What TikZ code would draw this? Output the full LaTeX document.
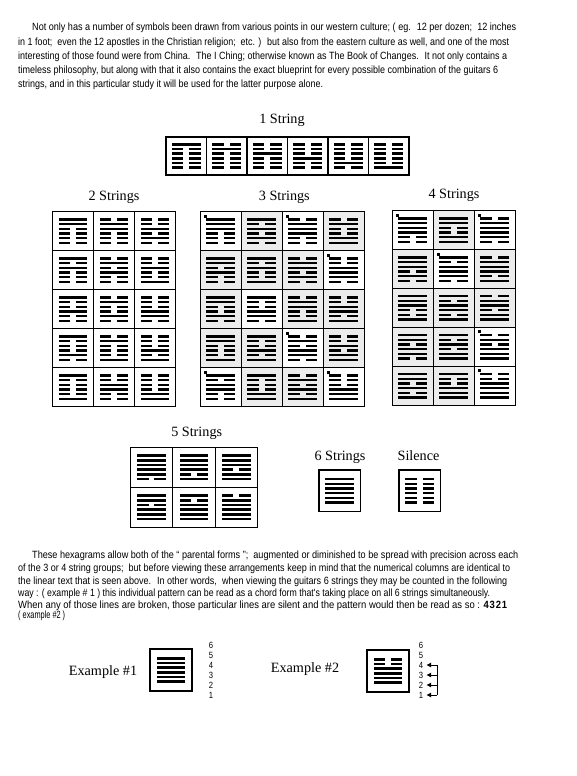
\documentclass[tikz,border=0pt]{standalone}
\usepackage{fontspec}
\usepackage{graphicx}
\setmainfont{Liberation Serif}
\newfontfamily\bodyfont[FakeStretch=0.85]{Liberation Sans}
\usetikzlibrary{arrows.meta}
\definecolor{cellgray}{RGB}{236,236,236}

\def\hxw{14.35}\def\hxg{2.9}\def\hxt{1.2}\def\hxs{4.67}
\newcommand{\hexa}[3]{%
  \pgfmathsetmacro{\hxx}{#1}%
  \foreach \v [count=\i] in {#3} {%
    \pgfmathsetmacro{\hyy}{#2+(\i-3.5)*\hxs}%
    \ifnum\v=1\relax
      \fill ({\hxx-\hxw},{\hyy-\hxt}) rectangle ({\hxx+\hxw},{\hyy+\hxt});%
    \else
      \fill ({\hxx-\hxw},{\hyy-\hxt}) rectangle ({\hxx-\hxg},{\hyy+\hxt});%
      \fill ({\hxx+\hxg},{\hyy-\hxt}) rectangle ({\hxx+\hxw},{\hyy+\hxt});%
    \fi
  }%
}
\newcommand{\hexcell}[3]{\hexa{\GX+(#1-0.5)*\GW}{\GY+(#2-0.5)*\GH}{#3}}
\newcommand{\graycell}[2]{\fill[cellgray] ({\GX+(#1-1)*\GW},{\GY+(#2-1)*\GH}) rectangle ({\GX+#1*\GW},{\GY+#2*\GH});}
\newcommand{\markcell}[2]{\fill ({\GX+(#1-1)*\GW+3.5},{\GY+(#2-1)*\GH+3}) rectangle ++(3,3);}
\newcommand{\gridlines}[2]{%
  \draw[gridline] (\GX,\GY) rectangle ({\GX+#1*\GW},{\GY+#2*\GH});%
  \foreach \c in {1,...,#1} {\ifnum\c<#1\relax \draw[gridline] ({\GX+\c*\GW},\GY) -- ({\GX+\c*\GW},{\GY+#2*\GH});\fi}%
  \foreach \r in {1,...,#2} {\ifnum\r<#2\relax \draw[gridline] (\GX,{\GY+\r*\GH}) -- ({\GX+#1*\GW},{\GY+\r*\GH});\fi}%
}

\begin{document}
\begin{tikzpicture}[x=1pt,y=-1pt,
  gridline/.style={line width=1.1pt,black},
  title/.style={anchor=base,inner sep=0pt,font=\fontsize{14.2}{17}\selectfont},
  body/.style={anchor=base west,inner sep=0pt,font=\bodyfont\fontsize{10.5}{12}\selectfont},
  num/.style={font=\bodyfont\fontsize{9}{10}\selectfont},
  arr/.style={-{Triangle[length=4.5pt,width=4.5pt]},line width=0.8pt}]
\fill[white] (0,0) rectangle (576,776);
\useasboundingbox (0,0) rectangle (576,776);

% ---- paragraph 1
\node[body] (pa1) at (32,31) {\resizebox{484pt}{\height}{Not only has a number of symbols been drawn from various points in our western culture; ( eg.~ 12 per dozen;~ 12 inches}};
\node[body] (pa2) at (18,45.2) {\resizebox{491pt}{\height}{in 1 foot;~ even the 12 apostles in the Christian religion;~ etc. )~ but also from the eastern culture as well, and one of the most}};
\node[body] (pa3) at (18,59.4) {\resizebox{489pt}{\height}{interesting of those found were from China.~ The I Ching; otherwise known as The Book of Changes.~ It not only contains a}};
\node[body] (pa4) at (18,73.6) {\resizebox{480pt}{\height}{timeless philosophy, but along with that it also contains the exact blueprint for every possible combination of the guitars 6}};
\node[body] (pa5) at (18,87.8) {\resizebox{305pt}{\height}{strings, and in this particular study it will be used for the latter purpose alone.}};

% ---- titles
\node[title] (t1) at (282,123.3) {1 String};
\node[title] (t2) at (114,200.5) {2 Strings};
\node[title] (t3) at (284.3,200.5) {3 Strings};
\node[title] (t4) at (454,198.5) {4 Strings};
\node[title] (t5) at (196.7,436) {5 Strings};
\node[title] (t6) at (340,460) {6 Strings};
\node[title] (t7) at (418.5,460) {Silence};

% ---- 1 String
\def\GX{166}\def\GY{137}\def\GW{40.5}\def\GH{38}
\hexcell{1}{1}{1,0,0,0,0,0}
\hexcell{2}{1}{0,1,0,0,0,0}
\hexcell{3}{1}{0,0,1,0,0,0}
\hexcell{4}{1}{0,0,0,1,0,0}
\hexcell{5}{1}{0,0,0,0,1,0}
\hexcell{6}{1}{0,0,0,0,0,1}
\gridlines{6}{1}

% ---- 2 Strings
\def\GX{52.5}\def\GY{211.7}\def\GW{41.05}\def\GH{39}
\hexcell{1}{1}{1,1,0,0,0,0}\hexcell{2}{1}{0,1,1,0,0,0}\hexcell{3}{1}{0,0,1,0,1,0}
\hexcell{1}{2}{1,0,1,0,0,0}\hexcell{2}{2}{0,1,0,1,0,0}\hexcell{3}{2}{0,0,1,0,0,1}
\hexcell{1}{3}{1,0,0,1,0,0}\hexcell{2}{3}{0,1,0,0,1,0}\hexcell{3}{3}{0,0,0,1,1,0}
\hexcell{1}{4}{1,0,0,0,1,0}\hexcell{2}{4}{0,1,0,0,0,1}\hexcell{3}{4}{0,0,0,1,0,1}
\hexcell{1}{5}{1,0,0,0,0,1}\hexcell{2}{5}{0,0,1,1,0,0}\hexcell{3}{5}{0,0,0,0,1,1}
\gridlines{3}{5}

% ---- 3 Strings
\def\GX{200.3}\def\GY{211.7}\def\GW{41}\def\GH{39}
\graycell{2}{1}\graycell{4}{1}
\graycell{1}{2}\graycell{2}{2}\graycell{3}{2}
\graycell{1}{3}\graycell{3}{3}\graycell{4}{3}
\graycell{1}{4}\graycell{2}{4}\graycell{4}{4}
\graycell{2}{5}\graycell{3}{5}
\markcell{1}{1}\markcell{3}{1}\markcell{4}{2}\markcell{3}{4}\markcell{1}{5}\markcell{4}{5}
\hexcell{1}{1}{1,1,1,0,0,0}\hexcell{2}{1}{1,0,1,0,1,0}\hexcell{3}{1}{0,1,1,1,0,0}\hexcell{4}{1}{0,1,0,0,1,1}
\hexcell{1}{2}{1,1,0,1,0,0}\hexcell{2}{2}{1,0,1,0,0,1}\hexcell{3}{2}{0,1,1,0,1,0}\hexcell{4}{2}{0,0,1,1,1,0}
\hexcell{1}{3}{1,1,0,0,1,0}\hexcell{2}{3}{1,0,0,1,1,0}\hexcell{3}{3}{0,1,1,0,0,1}\hexcell{4}{3}{0,0,1,1,0,1}
\hexcell{1}{4}{1,1,0,0,0,1}\hexcell{2}{4}{1,0,0,1,0,1}\hexcell{3}{4}{0,1,0,1,1,0}\hexcell{4}{4}{0,0,1,0,1,1}
\hexcell{1}{5}{1,0,1,1,0,0}\hexcell{2}{5}{1,0,0,0,1,1}\hexcell{3}{5}{0,1,0,1,0,1}\hexcell{4}{5}{0,0,0,1,1,1}
\gridlines{4}{5}

% ---- 4 Strings
\def\GX{392.3}\def\GY{210.7}\def\GW{41}\def\GH{38.9}
\graycell{2}{1}
\graycell{1}{2}\graycell{3}{2}
\graycell{1}{3}\graycell{2}{3}\graycell{3}{3}
\graycell{1}{4}\graycell{2}{4}
\graycell{1}{5}\graycell{2}{5}
\markcell{1}{1}\markcell{3}{1}\markcell{2}{2}\markcell{3}{4}\markcell{3}{5}
\hexcell{1}{1}{1,1,1,1,0,0}\hexcell{2}{1}{1,1,0,0,1,1}\hexcell{3}{1}{0,1,1,1,1,0}
\hexcell{1}{2}{1,1,1,0,1,0}\hexcell{2}{2}{1,0,1,1,1,0}\hexcell{3}{2}{0,1,1,1,0,1}
\hexcell{1}{3}{1,1,1,0,0,1}\hexcell{2}{3}{1,0,1,1,0,1}\hexcell{3}{3}{0,1,1,0,1,1}
\hexcell{1}{4}{1,1,0,1,1,0}\hexcell{2}{4}{1,0,1,0,1,1}\hexcell{3}{4}{0,1,0,1,1,1}
\hexcell{1}{5}{1,1,0,1,0,1}\hexcell{2}{5}{1,0,0,1,1,1}\hexcell{3}{5}{0,0,1,1,1,1}
\gridlines{3}{5}

% ---- 5 Strings
\def\GX{130.3}\def\GY{447.3}\def\GW{42.4}\def\GH{40}
\hexcell{1}{1}{1,1,1,1,1,0}\hexcell{2}{1}{1,1,1,1,0,1}\hexcell{3}{1}{1,1,1,0,1,1}
\hexcell{1}{2}{1,1,0,1,1,1}\hexcell{2}{2}{1,0,1,1,1,1}\hexcell{3}{2}{0,1,1,1,1,1}
\gridlines{3}{2}

% ---- 6 Strings
\def\GX{319}\def\GY{470}\def\GW{41.5}\def\GH{41.5}
\hexcell{1}{1}{1,1,1,1,1,1}
\gridlines{1}{1}

% ---- Silence
\def\GX{399}\def\GY{470}\def\GW{41.3}\def\GH{41.5}
\hexcell{1}{1}{0,0,0,0,0,0}
\gridlines{1}{1}

% ---- paragraph 2
\node[body] (pb1) at (32,558) {\resizebox{486pt}{\height}{These hexagrams allow both of the “ parental forms ”;~ augmented or diminished to be spread with precision across each}};
\node[body] (pb2) at (18,571) {\resizebox{492pt}{\height}{of the 3 or 4 string groups;~ but before viewing these arrangements keep in mind that the numerical columns are identical to}};
\node[body] (pb3) at (18,584) {\resizebox{489pt}{\height}{the linear text that is seen above.~ In other words,~ when viewing the guitars 6 strings they may be counted in the following}};
\node[body] (pb4) at (18,596) {\resizebox{472pt}{\height}{way : ( example \# 1 ) this individual pattern can be read as a chord form that's taking place on all 6 strings simultaneously.}};
\node[body] (pb5) at (18,608) {\resizebox{489pt}{\height}{When any of those lines are broken, those particular lines are silent and the pattern would then be read as so : \textbf{4\kern0.8pt3\kern0.8pt2\kern0.8pt1}}};
\node[body] (pb6) at (18,618) {\resizebox{47pt}{\height}{( example \#2 )}};

% ---- Example 1
\node[title] (e1) at (103,675) {Example \#1};
\def\GX{150}\def\GY{649}\def\GW{42}\def\GH{42}
\hexcell{1}{1}{1,1,1,1,1,1}
\gridlines{1}{1}
\foreach \k in {1,...,6} {\node[num] (n\k) at (211,{695-10*(\k-1)}) {\k};}

% ---- Example 2
\node[title] (e2) at (305,672) {Example \#2};
\def\GX{367}\def\GY{650}\def\GW{42}\def\GH{42}
\hexcell{1}{1}{0,0,1,1,1,1}
\gridlines{1}{1}
\foreach \k in {1,...,6} {\node[num] (m\k) at (421,{695-10*(\k-1)}) {\k};}
\foreach \k in {1,...,4} {\coordinate (a\k) at (437,{695-10*(\k-1)});}
\draw[line width=0.8pt] (a4) -- (a1);
\foreach \k in {1,...,4} {\draw[arr] (a\k) -- (m\k);}
\end{tikzpicture}
\end{document}
